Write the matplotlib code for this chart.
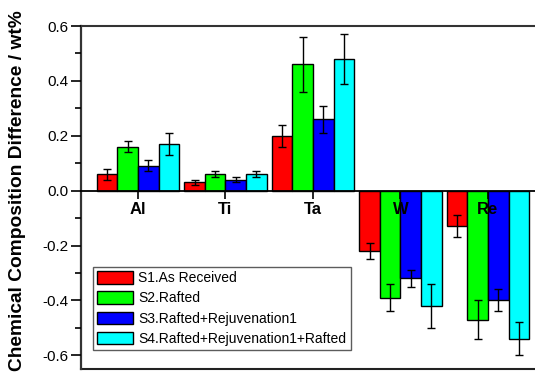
import numpy as np
import matplotlib.pyplot as plt
from matplotlib.ticker import MultipleLocator

elements = ['Al', 'Ti', 'Ta', 'W', 'Re']
series = ['S1.As Received', 'S2.Rafted', 'S3.Rafted+Rejuvenation1',
          'S4.Rafted+Rejuvenation1+Rafted']
colors = ['#FF0000', '#00FF00', '#0000FF', '#00FFFF']

s1 = [0.06, 0.03, 0.20, -0.22, -0.13]
s2 = [0.16, 0.06, 0.46, -0.39, -0.47]
s3 = [0.09, 0.04, 0.26, -0.32, -0.40]
s4 = [0.17, 0.06, 0.48, -0.42, -0.54]
e1 = [0.02, 0.01, 0.04, 0.03, 0.04]
e2 = [0.02, 0.01, 0.10, 0.05, 0.07]
e3 = [0.02, 0.01, 0.05, 0.03, 0.04]
e4 = [0.04, 0.01, 0.09, 0.08, 0.06]

plt.rcParams['font.family'] = ['Liberation Sans', 'DejaVu Sans']

fig = plt.figure(figsize=(5.35, 3.83), dpi=100)
ax = fig.add_axes([81 / 535, 1 - 369 / 383, (546 - 81) / 535, (369 - 26) / 383])

x = np.arange(len(elements))
w = 0.235
vals = [s1, s2, s3, s4]
errs = [e1, e2, e3, e4]
for i in range(4):
    ax.bar(x + (i - 1.5) * w, vals[i], w, color=colors[i], edgecolor='black',
           linewidth=1.0, label=series[i], zorder=2)
    ax.errorbar(x + (i - 1.5) * w, vals[i], yerr=errs[i], fmt='none',
                ecolor='black', elinewidth=1.0, capsize=3, capthick=1.0, zorder=3)

ax.set_axisbelow(False)  # element names sit on top of the bars (W, Re)
ax.set_xlim(-0.651, (546 - 138) / 87.5)
ax.set_ylim(-0.65, 0.6)

# x axis drawn through zero, frame line kept at the bottom
ax.spines['bottom'].set_position(('data', 0))
ax.spines['bottom'].set_linewidth(1.3)
ax.spines['right'].set_visible(False)
ax.spines['top'].set_linewidth(1.5)
ax.spines['top'].set_color('#333333')
ax.spines['left'].set_linewidth(1.6)
ax.spines['left'].set_color('#333333')
ax.plot([0, 1], [0, 0], transform=ax.transAxes, color='#222222', lw=1.5,
        clip_on=False)

ax.set_xticks(x)
ax.set_xticklabels(elements, fontsize=12, fontweight='bold')
ax.tick_params(axis='x', direction='out', length=6, width=1.2, pad=2)

ax.yaxis.set_major_locator(MultipleLocator(0.2))
ax.yaxis.set_minor_locator(MultipleLocator(0.1))
ax.set_yticks(np.arange(-0.6, 0.61, 0.2))
ax.set_yticklabels(['%.1f' % v for v in np.arange(-0.6, 0.61, 0.2)], fontsize=11)
ax.tick_params(axis='y', which='major', direction='out', length=7, width=1.2, pad=2)
ax.tick_params(axis='y', which='minor', direction='out', length=4, width=1.2)

ax.set_ylabel('Chemical Composition Difference / wt%', fontsize=13.8,
              fontweight='bold')
ax.yaxis.set_label_coords(-0.118, 0.52)

leg = ax.legend(loc='lower left', bbox_to_anchor=(0.025, 0.055), fontsize=10,
                frameon=True, fancybox=False, edgecolor='#333333',
                handlelength=2.6, handleheight=1.0, handletextpad=0.4,
                labelspacing=0.45, borderpad=0.3, borderaxespad=0)
leg.get_frame().set_linewidth(1.0)
leg.set_zorder(5)

fig.savefig('out.png', dpi=100)
